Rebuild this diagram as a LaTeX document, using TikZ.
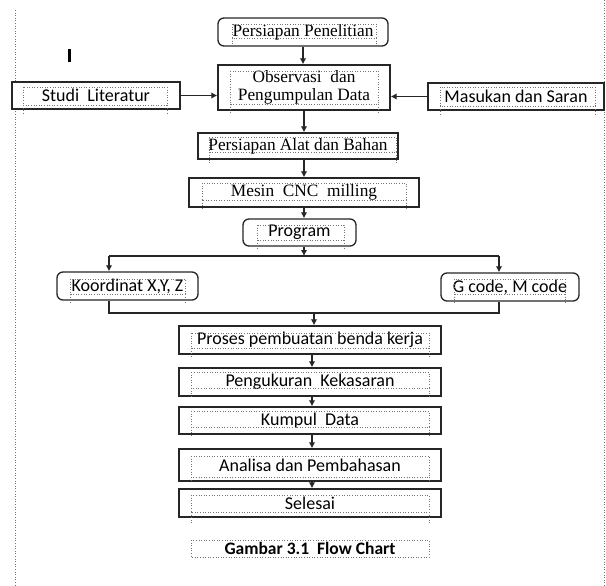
\documentclass[tikz,border=0pt]{standalone}
\usepackage{fontspec}
\setmainfont{Liberation Serif}
\newfontfamily\calib{Carlito}
\usetikzlibrary{arrows.meta}
\newcommand{\dotbox}[5]{%
  \draw[dotframe] (#1,#2) rectangle (#3,#4);
  \draw[dotframe] (#1,#4) -- (#1,#5) (#3,#4) -- (#3,#5);}
\begin{document}
\begin{tikzpicture}[x=1pt,y=-1pt,
  box/.style={draw=black!85, line width=1.3pt, inner sep=0pt, fill=white},
  rbox/.style={box, rounded corners=6pt},
  serif/.style={font=\fontsize{17.3}{18}\selectfont},
  sans/.style={font=\calib\fontsize{18}{19}\selectfont},
  conn/.style={draw=black!85, line width=1.3pt},
  arr/.style={conn, -{Latex[length=6pt,width=6.5pt]}},
  dotframe/.style={draw=black!55, line width=0.6pt, dotted}
]
\fill[white] (0,0) rectangle (606,586);
\useasboundingbox (0,0) rectangle (606,586);
% page margin guides
\draw[dotframe] (15,10) -- (15,586);
\draw[dotframe] (604,0) -- (604,586);
% text cursor
\draw[line width=2.6pt] (69.5,49) -- (69.5,62);

% boxes
\node[rbox, minimum width=170pt, minimum height=28pt, serif] (pp) at (303,32) {Persiapan Penelitian};
\node[box, minimum width=172pt, minimum height=45pt, serif, align=center] (obs) at (304,87.5) {Observasi\ \ dan\\Pengumpulan Data};
\node[box, minimum width=168pt, minimum height=27pt, sans] (studi) at (96,95.5) {Studi\ \ Literatur};
\node[box, minimum width=176pt, minimum height=27pt, sans] (mas) at (516,96.5) {Masukan dan Saran};
\node[box, minimum width=200pt, minimum height=26pt, serif] (alat) at (298,146) {Persiapan\ Alat\ dan\ Bahan};
\node[box, minimum width=230pt, minimum height=29pt, serif] (mesin) at (304,192.5) {Mesin\ \ CNC\ \ milling};
\node[rbox, minimum width=113pt, minimum height=27pt, sans] (prog) at (299.5,232.5) {Program};
\node[rbox, minimum width=141pt, minimum height=28pt, sans] (koord) at (127.5,286) {Koordinat X,Y, Z};
\node[rbox, minimum width=138pt, minimum height=28pt, sans] (gcode) at (510,287) {G code, M code};
\node[box, minimum width=262pt, minimum height=28pt, sans] (proses) at (310,340) {Proses\ pembuatan\ benda\ kerja};
\node[box, minimum width=262pt, minimum height=28pt, sans] (peng) at (310,382) {Pengukuran\ \ Kekasaran};
\node[box, minimum width=262pt, minimum height=27pt, sans] (kumpul) at (310,420.5) {Kumpul\ \ Data};
\node[box, minimum width=262pt, minimum height=32pt, sans] (anal) at (310,465) {Analisa dan Pembahasan};
\node[box, minimum width=262pt, minimum height=28pt, sans] (sel) at (310,503) {Selesai};
\node[font=\calib\bfseries\fontsize{17.5}{19}\selectfont, inner sep=0pt] (cap) at (310,548.5) {Gambar 3.1\ \ Flow Chart};

% dotted text-box frames
\dotbox{232}{24}{376}{38}{48}
\dotbox{230}{71}{378}{104}{114}
\dotbox{23}{87}{167}{105}{115}
\dotbox{440}{87}{595}{106}{115}
\dotbox{209}{137}{396}{152}{163}
\dotbox{202}{183}{406}{200}{208}
\dotbox{257}{225}{344}{240}{249}
\dotbox{70}{279}{185}{294}{302}
\dotbox{454}{279}{565}{294}{302}
\dotbox{191}{333}{429}{348}{357}
\dotbox{191}{372}{429}{388}{398}
\dotbox{191}{411}{429}{427}{436}
\dotbox{191}{456}{429}{477}{480}
\dotbox{191}{495}{429}{512}{523}
\dotbox{191}{540}{429}{557}{557}

% connectors
\draw[arr] (pp.south) -- (pp.south |- obs.north);
\draw[arr] (studi.east) -- (studi.east -| obs.west);
\draw[arr] (mas.west) -- (mas.west -| obs.east);
\draw[arr] (obs.south) -- (obs.south |- alat.north);
\draw[arr] (mesin.north |- alat.south) -- (mesin.north);
\draw[arr] (mesin.south) -- (mesin.south |- prog.north);
\coordinate (split) at (304,256);
\coordinate (kl) at (109,256);
\coordinate (gl) at (499,256);
\draw[arr] (split |- prog.south) -- (split);
\draw[conn] (kl) -- (gl);
\draw[arr] (kl) -- (kl |- koord.north);
\draw[arr] (gl) -- (gl |- gcode.north);
\coordinate (kb) at (109,313);
\coordinate (gb) at (499,313);
\coordinate (mb) at (314,313);
\draw[conn] (kb |- koord.south) -- (kb) -- (gb) -- (gb |- gcode.south);
\draw[arr] (mb) -- (mb |- proses.north);
\coordinate (cl) at (312,0);
\draw[arr] (cl |- proses.south) -- (cl |- peng.north);
\draw[arr] (cl |- peng.south) -- (cl |- kumpul.north);
\draw[arr] (cl |- kumpul.south) -- (cl |- anal.north);
\draw[arr] (cl |- anal.south) -- (cl |- sel.north);
\end{tikzpicture}
\end{document}
